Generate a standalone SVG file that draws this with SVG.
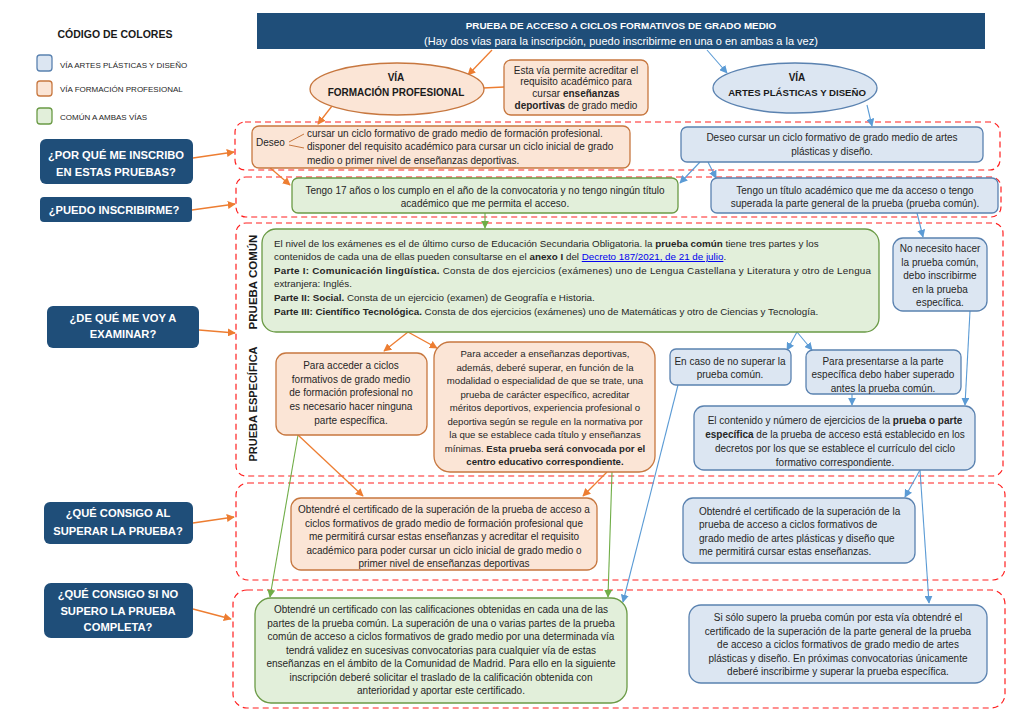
<svg xmlns="http://www.w3.org/2000/svg" width="1024" height="719" viewBox="0 0 1024 719">
<defs>
<style>
.t{font-family:"Liberation Sans",Arial,sans-serif;font-size:10px;fill:#262626}
.c{text-anchor:middle}
.b{font-weight:bold}
.q{font-family:"Liberation Sans",Arial,sans-serif;font-weight:bold;font-size:11.2px;fill:#fff;text-anchor:middle}
.h{font-family:"Liberation Sans",Arial,sans-serif;font-weight:bold;fill:#1a1a1a}
.or{fill:#fbe5d6;stroke:#c7773f;stroke-width:1.3}
.bl{fill:#dce6f2;stroke:#5a82b0;stroke-width:1.3}
.gr{fill:#e2efda;stroke:#6a9a45;stroke-width:1.3}
.dash{fill:none;stroke:#ff2020;stroke-width:1.2;stroke-dasharray:6 4}
.qb{fill:#1f4e79}
.lo{stroke:#ed7d31;stroke-width:1.3;fill:none}
.lb{stroke:#5b9bd5;stroke-width:1.1;fill:none}
.lg{stroke:#70ad47;stroke-width:1.1;fill:none}
.lk{fill:#0000ee;text-decoration:underline}
.pc{font-size:9.8px}
.sm{font-size:9.6px}
.lg8{font-size:8px}
.nt{font-size:10px}
</style>
<marker id="ao" viewBox="0 0 10 10" refX="9" refY="5" markerWidth="8" markerHeight="8" markerUnits="userSpaceOnUse" orient="auto"><path d="M0,0L10,5L0,10z" fill="#ed7d31"/></marker>
<marker id="ab" viewBox="0 0 10 10" refX="9" refY="5" markerWidth="8" markerHeight="8" markerUnits="userSpaceOnUse" orient="auto"><path d="M0,0L10,5L0,10z" fill="#5b9bd5"/></marker>
<marker id="ag" viewBox="0 0 10 10" refX="9" refY="5" markerWidth="8" markerHeight="8" markerUnits="userSpaceOnUse" orient="auto"><path d="M0,0L10,5L0,10z" fill="#70ad47"/></marker>
</defs>
<rect width="1024" height="719" fill="#fff"/>

<g id="legend">
<text class="h" x="115" y="38" font-size="10.5" text-anchor="middle">CÓDIGO DE COLORES</text>
<rect class="bl" x="37" y="55" width="15" height="16" rx="3"/>
<rect class="or" x="37" y="81" width="15" height="15" rx="3"/>
<rect class="gr" x="37" y="108" width="15" height="16" rx="3"/>
<text class="t lg8" x="60" y="68">VÍA ARTES  PLÁSTICAS Y DISEÑO</text>
<text class="t lg8" x="60" y="92">VÍA FORMACIÓN PROFESIONAL</text>
<text class="t lg8" x="60" y="120">COMÚN A AMBAS VÍAS</text>
</g>

<g id="title">
<rect class="qb" x="257" y="13" width="728" height="36"/>
<text class="q" x="621" y="29" style="font-size:9.9px">PRUEBA DE ACCESO A CICLOS FORMATIVOS DE GRADO MEDIO</text>
<text class="q" x="621" y="45" style="font-size:11px;font-weight:normal">(Hay dos vías para la inscripción, puedo inscribirme en una o en ambas a la vez)</text>
</g>

<g id="dashed-frames">
<rect class="dash" x="235" y="122" width="765" height="48" rx="10"/>
<rect class="dash" x="236" y="177" width="765" height="40" rx="10"/>
<rect class="dash" x="236" y="223" width="767" height="253" rx="10"/>
<rect class="dash" x="236" y="483" width="769" height="97" rx="12"/>
<rect class="dash" x="233" y="590" width="772" height="118" rx="14"/>
</g>

<g id="questions">
<g id="q1"><rect class="qb" x="40" y="139" width="153" height="45" rx="6"/><text class="q" x="116" y="159">¿POR QUÉ ME INSCRIBO</text><text class="q" x="116" y="176">EN ESTAS PRUEBAS?</text></g>
<g id="q2"><rect class="qb" x="40" y="197" width="152" height="25" rx="4"/><text class="q" x="114" y="214">¿PUEDO INSCRIBIRME?</text></g>
<g id="q3"><rect class="qb" x="47" y="306" width="152" height="42" rx="6"/><text class="q" x="123" y="322">¿DE QUÉ ME VOY A</text><text class="q" x="123" y="338">EXAMINAR?</text></g>
<g id="q4"><rect class="qb" x="44" y="502" width="149" height="42" rx="6"/><text class="q" x="118" y="517">¿QUÉ CONSIGO AL</text><text class="q" x="118" y="535">SUPERAR LA PRUEBA?</text></g>
<g id="q5"><rect class="qb" x="44" y="583" width="149" height="55" rx="7"/><text class="q" x="118" y="598">¿QUÉ CONSIGO SI NO</text><text class="q" x="118" y="615">SUPERO LA PRUEBA</text><text class="q" x="118" y="631">COMPLETA?</text></g>
</g>

<g id="connectors">
<line class="lo" x1="193" y1="158" x2="234" y2="152" marker-end="url(#ao)"/>
<line class="lo" x1="192" y1="210" x2="235" y2="204" marker-end="url(#ao)"/>
<line class="lo" x1="199" y1="330" x2="235" y2="333" marker-end="url(#ao)"/>
<line class="lo" x1="193" y1="523" x2="234" y2="517" marker-end="url(#ao)"/>
<line class="lo" x1="193" y1="609" x2="231" y2="619" marker-end="url(#ao)"/>
<line class="lo" x1="492" y1="50" x2="468" y2="75" marker-end="url(#ao)"/>
<line class="lo" x1="483" y1="88" x2="504" y2="87"/>
<line class="lo" x1="332" y1="106" x2="318" y2="124" marker-end="url(#ao)"/>
<line class="lo" x1="268" y1="166" x2="290" y2="185" marker-end="url(#ao)"/>
<line class="lb" x1="707" y1="50" x2="727" y2="73" marker-end="url(#ab)"/>
<line class="lb" x1="867" y1="105" x2="872" y2="126" marker-end="url(#ab)"/>
<line class="lb" x1="700" y1="162" x2="680" y2="183" marker-end="url(#ab)"/>
<line class="lb" x1="708" y1="162" x2="716" y2="178" marker-end="url(#ab)"/>
<line class="lg" x1="485" y1="213" x2="485" y2="228" marker-end="url(#ag)"/>
<line class="lb" x1="917" y1="213" x2="923" y2="237" marker-end="url(#ab)"/>
<line class="lb" x1="970" y1="311" x2="965" y2="405" marker-end="url(#ab)"/>
<line class="lb" x1="797" y1="332" x2="787" y2="350" marker-end="url(#ab)"/>
<line class="lb" x1="797" y1="332" x2="812" y2="350" marker-end="url(#ab)"/>
<line class="lb" x1="852" y1="394" x2="852" y2="405" marker-end="url(#ab)"/>
<line class="lo" x1="408" y1="332" x2="384" y2="351" marker-end="url(#ao)"/>
<line class="lo" x1="408" y1="332" x2="437" y2="348" marker-end="url(#ao)"/>
<line class="lg" x1="298" y1="435" x2="270" y2="597" marker-end="url(#ag)"/>
<line class="lo" x1="298" y1="435" x2="363" y2="496" marker-end="url(#ao)"/>
<line class="lo" x1="607" y1="472" x2="583" y2="496" marker-end="url(#ao)"/>
<line class="lg" x1="612" y1="472" x2="608" y2="597" marker-end="url(#ag)"/>
<line class="lb" x1="678" y1="385" x2="623" y2="602" marker-end="url(#ab)"/>
<line class="lb" x1="920" y1="470" x2="905" y2="497" marker-end="url(#ab)"/>
<line class="lb" x1="920" y1="470" x2="929" y2="603" marker-end="url(#ab)"/>
</g>

<g id="via-fp">
<ellipse class="or" cx="397" cy="89" rx="87" ry="26"/>
<text class="h c" x="396" y="81" font-size="10">VÍA</text>
<text class="h c" x="396" y="96" font-size="10">FORMACIÓN PROFESIONAL</text>
</g>
<g id="fp-note">
<rect class="or" x="504" y="60" width="144" height="55" rx="7"/>
<text class="t c nt" x="576" y="74">Esta vía permite acreditar el</text>
<text class="t c nt" x="576" y="85">requisito académico para</text>
<text class="t c nt" x="576" y="97">cursar <tspan class="b">enseñanzas</tspan></text>
<text class="t c nt" x="576" y="109"><tspan class="b">deportivas</tspan> de grado medio</text>
</g>
<g id="via-apd">
<ellipse class="bl" cx="795" cy="88" rx="82" ry="25"/>
<text class="h c" x="797" y="81" font-size="10">VÍA</text>
<text class="h c" x="797" y="96" font-size="9.6">ARTES PLÁSTICAS Y DISEÑO</text>
</g>

<g id="deseo-fp">
<rect class="or" x="252" y="126" width="378" height="42" rx="7"/>
<text class="t" x="256" y="146">Deseo</text>
<path d="M289,142 L304,134 M289,145 L304,148" stroke="#c7773f" stroke-width="1" fill="none"/>
<text class="t" x="307" y="137">cursar un ciclo formativo de grado medio de formación profesional.</text>
<text class="t" x="307" y="150">disponer del requisito académico para cursar un ciclo inicial de grado</text>
<text class="t" x="307" y="164">medio o primer nivel de enseñanzas deportivas.</text>
</g>
<g id="deseo-apd">
<rect class="bl" x="681" y="127" width="302" height="35" rx="6"/>
<text class="t c" x="832" y="141">Deseo cursar un ciclo formativo de grado medio de artes</text>
<text class="t c" x="832" y="155">plásticas y diseño.</text>
</g>

<g id="requisito-comun">
<rect class="gr" x="292" y="178" width="386" height="35" rx="6"/>
<text class="t c" x="485" y="194">Tengo 17 años o los cumplo en el año de la convocatoria y no tengo ningún título</text>
<text class="t c" x="485" y="207">académico que me permita el acceso.</text>
</g>
<g id="requisito-apd">
<rect class="bl" x="711" y="178" width="287" height="35" rx="6"/>
<text class="t c" x="855" y="194">Tengo un título académico que me da acceso o tengo</text>
<text class="t c" x="855" y="207">superada la parte general de la prueba (prueba común).</text>
</g>

<g id="labels-vertical">
<text class="h c" font-size="11.5" transform="translate(257,282) rotate(-90)">PRUEBA COMÚN</text>
<text class="h c" font-size="11" transform="translate(257,404) rotate(-90)">PRUEBA ESPECÍFICA</text>
</g>

<g id="prueba-comun">
<rect class="gr" x="262" y="229" width="617" height="103" rx="14"/>
<text class="t pc" x="274" y="247">El nivel de los exámenes es el de último curso de Educación Secundaria Obligatoria. la <tspan class="b">prueba común</tspan> tiene tres partes y los</text>
<text class="t pc" x="274" y="260">contenidos de cada una de ellas pueden consultarse en el <tspan class="b">anexo I</tspan> del <tspan class="lk">Decreto 187/2021, de 21 de julio</tspan>.</text>
<text class="t pc" x="274" y="274" textLength="597" lengthAdjust="spacing"><tspan class="b">Parte I: Comunicación lingüística.</tspan> Consta de dos ejercicios (exámenes) uno de Lengua Castellana y Literatura y otro de Lengua</text>
<text class="t pc" x="274" y="287">extranjera: Inglés.</text>
<text class="t pc" x="274" y="301"><tspan class="b">Parte II: Social.</tspan> Consta de un ejercicio (examen) de Geografía e Historia.</text>
<text class="t pc" x="274" y="315"><tspan class="b">Parte III: Científico Tecnológica.</tspan> Consta de dos ejercicios (exámenes) uno de Matemáticas y otro de Ciencias y Tecnología.</text>
</g>

<g id="no-necesito">
<rect class="bl" x="893" y="238" width="94" height="73" rx="10"/>
<text class="t c" x="940" y="252">No necesito hacer</text>
<text class="t c" x="940" y="266">la prueba común,</text>
<text class="t c" x="940" y="279">debo inscribirme</text>
<text class="t c" x="940" y="293">en la prueba</text>
<text class="t c" x="940" y="306">específica.</text>
</g>

<g id="esp-fp">
<rect class="or" x="276" y="353" width="151" height="82" rx="10"/>
<text class="t c" x="351" y="369">Para acceder a ciclos</text>
<text class="t c" x="351" y="383">formativos de grado medio</text>
<text class="t c" x="351" y="396">de formación profesional no</text>
<text class="t c" x="351" y="410">es necesario hacer ninguna</text>
<text class="t c" x="351" y="424">parte específica.</text>
</g>
<g id="esp-deportivas">
<rect class="or" x="434" y="342" width="221" height="130" rx="16"/>
<text class="t c sm" x="545" y="357">Para acceder a enseñanzas deportivas,</text>
<text class="t c sm" x="545" y="371">además, deberé superar, en función de la</text>
<text class="t c sm" x="545" y="384">modalidad o especialidad de que se trate, una</text>
<text class="t c sm" x="545" y="398">prueba de carácter específico, acreditar</text>
<text class="t c sm" x="545" y="411">méritos deportivos, experiencia profesional o</text>
<text class="t c sm" x="545" y="425">deportiva según se regule en la normativa por</text>
<text class="t c sm" x="545" y="438">la que se establece cada título y enseñanzas</text>
<text class="t c sm" x="545" y="452">mínimas. <tspan class="b">Esta prueba será convocada por el</tspan></text>
<text class="t c sm b" x="545" y="465">centro educativo correspondiente.</text>
</g>

<g id="en-caso">
<rect class="bl" x="670" y="349" width="121" height="36" rx="6"/>
<text class="t c" x="730" y="365">En caso de no superar la</text>
<text class="t c" x="730" y="378">prueba común.</text>
</g>
<g id="para-presentarse">
<rect class="bl" x="806" y="350" width="155" height="44" rx="7"/>
<text class="t c" x="883" y="365">Para presentarse a la parte</text>
<text class="t c" x="883" y="378">específica debo haber superado</text>
<text class="t c" x="883" y="392">antes la prueba común.</text>
</g>
<g id="contenido-especifica">
<rect class="bl" x="694" y="406" width="281" height="64" rx="10"/>
<text class="t c" x="835" y="424">El contenido y número de ejercicios de la <tspan class="b">prueba o parte</tspan></text>
<text class="t c" x="835" y="438"><tspan class="b">específica</tspan> de la prueba de acceso está establecido en los</text>
<text class="t c" x="835" y="452">decretos por los que se establece el currículo del ciclo</text>
<text class="t c" x="835" y="466">formativo correspondiente.</text>
</g>

<g id="cert-fp">
<rect class="or" x="291" y="498" width="306" height="72" rx="10"/>
<text class="t c" x="444" y="513">Obtendré el certificado de la superación de la prueba de acceso a</text>
<text class="t c" x="444" y="527">ciclos formativos de grado medio de formación profesional que</text>
<text class="t c" x="444" y="540">me permitirá cursar estas enseñanzas y acreditar el requisito</text>
<text class="t c" x="444" y="554">académico para poder cursar un ciclo inicial de grado medio o</text>
<text class="t c" x="444" y="567">primer nivel de enseñanzas deportivas</text>
</g>
<g id="cert-apd">
<rect class="bl" x="683" y="498" width="232" height="65" rx="10"/>
<text class="t" x="699" y="515">Obtendré el certificado de la superación de la</text>
<text class="t" x="699" y="528">prueba de acceso a ciclos formativos de</text>
<text class="t" x="699" y="542">grado medio de artes plásticas y diseño que</text>
<text class="t" x="699" y="555">me permitirá cursar estas enseñanzas.</text>
</g>

<g id="cert-comun">
<rect class="gr" x="255" y="598" width="372" height="105" rx="16"/>
<text class="t c" x="441" y="613">Obtendré un certificado con las calificaciones obtenidas en cada una de las</text>
<text class="t c" x="441" y="627">partes de la prueba común. La superación de una o varias partes de la prueba</text>
<text class="t c" x="441" y="640">común de acceso a ciclos formativos de grado medio por una determinada vía</text>
<text class="t c" x="441" y="654">tendrá validez en sucesivas convocatorias para cualquier vía de estas</text>
<text class="t c" x="441" y="667">enseñanzas en el ámbito de la Comunidad de Madrid. Para ello en la siguiente</text>
<text class="t c" x="441" y="681">inscripción deberé solicitar el traslado de la calificación obtenida con</text>
<text class="t c" x="441" y="694">anterioridad y aportar este certificado.</text>
</g>
<g id="cert-general-apd">
<rect class="bl" x="689" y="605" width="298" height="78" rx="12"/>
<text class="t c" x="838" y="621">Si sólo supero la prueba común por esta vía obtendré el</text>
<text class="t c" x="838" y="635">certificado de la superación de la parte general de la prueba</text>
<text class="t c" x="838" y="648">de acceso a ciclos formativos de grado medio de artes</text>
<text class="t c" x="838" y="662">plásticas y diseño. En próximas convocatorias únicamente</text>
<text class="t c" x="838" y="675">deberé inscribirme y superar la prueba específica.</text>
</g>
</svg>
